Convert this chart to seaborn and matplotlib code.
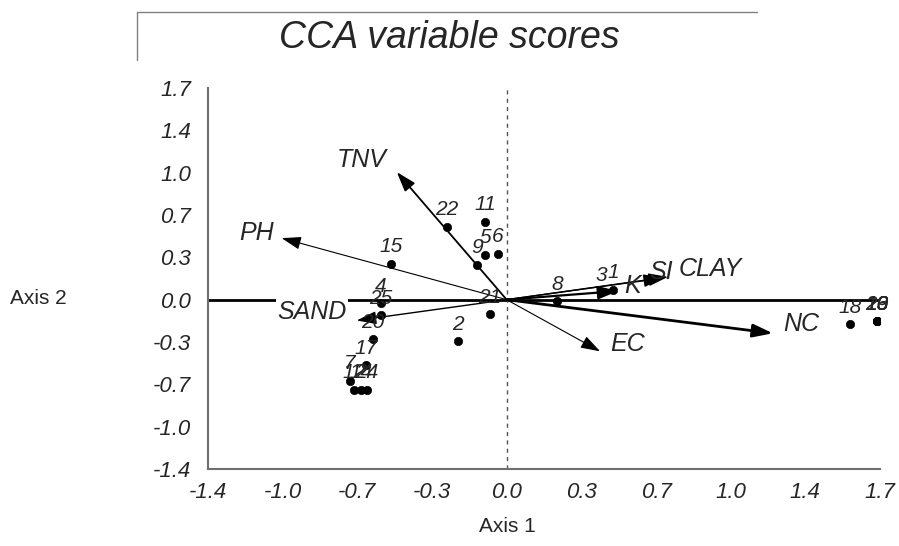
import numpy as np
import pandas as pd
import seaborn as sns
import matplotlib.pyplot as plt
from matplotlib.lines import Line2D

## Site scores (axis 1, axis 2)
site_labels = ['1', '2', '3', '4', '5', '6', '7', '8', '9', '11', '12', '14', '24',
               '15', '17', '18', '20', '21', '22', '25', '10', '13', '16', '19', '23']
site_x = [0.498, -0.228, 0.442, -0.589, -0.102, -0.041, -0.734, 0.236, -0.139, -0.102,
          -0.716, -0.683, -0.655, -0.542, -0.659, 1.609, -0.627, -0.078, -0.280, -0.589,
          1.736, 1.736, 1.736, 1.736, 1.736]
site_y = [0.080, -0.344, 0.063, -0.028, 0.371, 0.379, -0.669, -0.012, 0.287, 0.645,
          -0.743, -0.743, -0.743, 0.296, -0.544, -0.203, -0.328, -0.120, 0.603, -0.128,
          -0.178, -0.178, -0.178, -0.178, -0.178]

## Environmental variable arrows (end points)
env_names = ['TNV', 'PH', 'SAND', 'EC', 'NC', 'K', 'SI', 'CLAY']
env_x = [-0.515, -1.055, -0.703, 0.438, 1.248, 0.522, 0.733, 0.756]
env_y = [1.055, 0.509, -0.172, -0.427, -0.278, 0.071, 0.179, 0.188]

tick_vals = [-1.4, -1.05, -0.7, -0.35, 0.0, 0.35, 0.7, 1.05, 1.4, 1.75]
tick_labels = ['-1.4', '-1.0', '-0.7', '-0.3', '0.0', '0.3', '0.7', '1.0', '1.4', '1.7']

# label offsets (pixels) and shaft widths for the arrows
env_offsets = {'TNV': (-35, 12), 'PH': (-25, 5), 'SAND': (-45, 8), 'EC': (27, 7),
               'NC': (28, 9), 'K': (15, 5), 'SI': (-2, 6), 'CLAY': (42, 8)}
env_lw = {'TNV': 1.3, 'PH': 0.8, 'SAND': 1.0, 'EC': 0.8, 'NC': 2.0, 'K': 1.6,
          'SI': 1.0, 'CLAY': 1.0}

sns.set_theme(style='white')
plt.rcParams['font.family'] = ['Liberation Sans', 'DejaVu Sans']

fig = plt.figure(figsize=(8.99, 5.46), dpi=100)
ax = fig.add_axes([208/899, 77/546, 672/899, 381/546])

df = pd.DataFrame({'site': site_labels, 'axis1': site_x, 'axis2': site_y})

ax.axhline(0, color='black', lw=2, zorder=1)
ax.axvline(0, color='#555555', lw=1, ls=(0, (3, 3)), zorder=1)

for name, ex, ey in zip(env_names, env_x, env_y):
    ax.annotate('', xy=(ex, ey), xytext=(0, 0),
                arrowprops=dict(arrowstyle='-|>,head_length=1.0,head_width=0.33',
                                color='black', lw=env_lw[name], shrinkA=0, shrinkB=0),
                zorder=3)
    dx, dy = env_offsets[name]
    bbox = dict(fc='white', ec='none', pad=1) if name == 'SAND' else None
    ax.annotate(name, xy=(ex, ey), xytext=(dx, dy), textcoords='offset pixels',
                ha='center', va='center', fontsize=18, style='italic',
                bbox=bbox, zorder=4)

sns.scatterplot(data=df, x='axis1', y='axis2', color='black', s=36,
                edgecolor='black', ax=ax, zorder=5, legend=False)
for _, r in df.iterrows():
    ax.annotate(r['site'], xy=(r['axis1'], r['axis2']), xytext=(0, 17),
                textcoords='offset pixels', ha='center', va='center',
                fontsize=15, style='italic', zorder=6)

ax.set_xlim(-1.4, 1.75)
ax.set_ylim(-1.4, 1.75)
ax.set_xticks(tick_vals)
ax.set_xticklabels(tick_labels, fontsize=16, style='italic')
ax.set_yticks(tick_vals)
ax.set_yticklabels(tick_labels, fontsize=16, style='italic')
ax.tick_params(length=0)
ax.tick_params(axis='x', pad=9)
ax.tick_params(axis='y', pad=12)
ax.set_xlabel('')
ax.set_ylabel('')
for s in ['top', 'right']:
    ax.spines[s].set_visible(False)
for s in ['left', 'bottom']:
    ax.spines[s].set_color('#707070')
    ax.spines[s].set_linewidth(1.5)

## Title box
fig.add_artist(Line2D([137/899, 757/899], [1-12/546, 1-12/546], color='#808080', lw=1,
                      transform=fig.transFigure))
fig.add_artist(Line2D([137/899, 137/899], [1-12/546, 1-60/546], color='#808080', lw=1,
                      transform=fig.transFigure))
fig.text(449/899, 1-38/546, 'CCA variable scores', ha='center', va='center',
         fontsize=27, style='italic')
fig.text(507/899, 1-527/546, 'Axis 1', ha='center', va='center', fontsize=15)
fig.text(38/899, 1-298/546, 'Axis 2', ha='center', va='center', fontsize=15)

plt.savefig('out.png', dpi=100)
